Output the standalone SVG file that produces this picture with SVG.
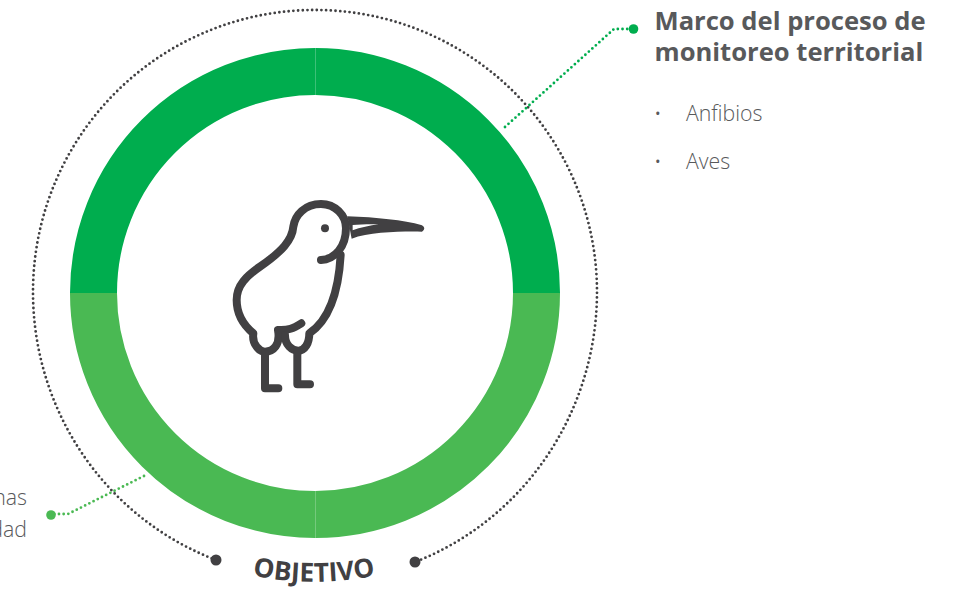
<svg xmlns="http://www.w3.org/2000/svg" width="957" height="592" viewBox="0 0 957 592">
<style>
.seg{fill:none;stroke-width:47}
.dg{stroke:#00ad4e}.lg{stroke:#4ab953}
.dots{fill:none;stroke-width:2.800;stroke-linecap:round;stroke-dasharray:0 4.7}
.ln{fill:none;stroke:#414042;stroke-width:24;stroke-linecap:round;stroke-linejoin:round}
.t{font-family:"Open Sans",sans-serif}
.title{font-size:25.600px;font-weight:700;fill:#58595b}
.light{font-size:21.300px;font-weight:300;fill:#58595b}
.bul{font-size:20px;font-weight:300;fill:#58595b}
</style>
<defs><path id="arcText" d="M224 568A300 300 0 0 0 404 568"/></defs>
<g id="ring">
<path class="seg dg" d="M93.500 293A221.500 221.500 0 0 1 315.400 71.500"/>
<path class="seg dg" d="M315.400 71.500A221.500 221.500 0 0 1 536.500 293"/>
<path class="seg lg" d="M536.500 293A221.500 221.500 0 0 1 315.400 514.500"/>
<path class="seg lg" d="M315.400 514.500A221.500 221.500 0 0 1 93.500 293"/>
</g>
<g id="connectors">
<path class="dots" stroke="#414042" d="M216 560A282 286 0 0 1 33 292A282 282 0 0 1 597 292A282 289 0 0 1 415 562"/>
<path class="dots" stroke="#00ad4e" d="M505 127L614 29H633"/>
<path class="dots" stroke="#4ab953" d="M144 476L68 514H51"/>
</g>
<g id="endpoints">
<circle cx="216" cy="560" r="5.500" fill="#414042"/>
<circle cx="415" cy="562" r="5.500" fill="#414042"/>
<circle cx="633.500" cy="29" r="4.800" fill="#00ad4e"/>
<circle cx="51" cy="515" r="4.800" fill="#4ab953"/>
</g>
<g id="kiwi" transform="translate(210 190) scale(.3333)">
<path class="ln" d="M333 210C375 208 408 170 408 115C408 75 375 42 333 42C285 42 255 75 250 110C247 150 215 185 150 230C110 258 80 285 80 330C80 370 100 405 130 430C125 465 150 485 165 485C190 485 212 465 204 420C235 422 250 415 274 400"/>
<path class="ln" d="M225 435C225 465 245 482 265 482C285 482 298 460 298 430C350 395 385 320 392 195"/>
<path class="ln" d="M165 490V595H205M262 485V583H300"/>
<circle cx="345" cy="115" r="12" fill="#414042"/>
<path fill="#414042" fill-rule="evenodd" d="M412 79C500 82 580 90 636 106Q650 115 636 125C580 124 480 125 425 146ZM428 105V121C450 113 480 107 506 103C480 102 450 103 428 105Z"/>
</g>
<g id="objetivo">
<text class="t" font-size="26.300" font-weight="700" fill="#414042"><textPath href="#arcText" startOffset="50%" text-anchor="middle">OBJETIVO</textPath></text>
</g>
<g id="label-top">
<text class="t title" x="654.500" y="29.500">Marco del proceso de</text>
<text class="t title" x="654.500" y="61">monitoreo territorial</text>
<text class="t bul" x="654" y="121">•</text>
<text class="t light" x="686" y="121">Anfibios</text>
<text class="t bul" x="654" y="169">•</text>
<text class="t light" x="686" y="169">Aves</text>
</g>
<g id="label-left">
<text class="t light" x="27" y="505" text-anchor="end">mas</text>
<text class="t light" x="27" y="537" text-anchor="end">dad</text>
</g>
</svg>
